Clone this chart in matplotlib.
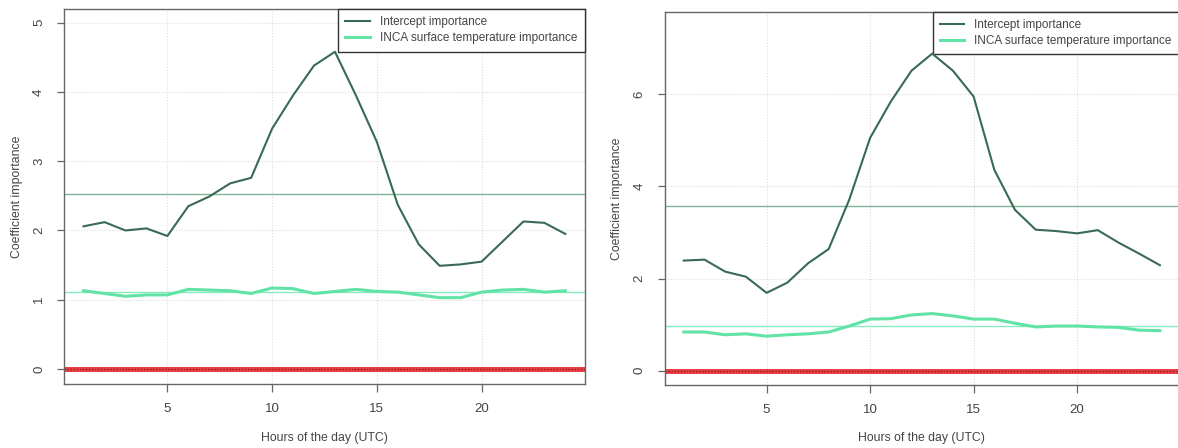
import numpy as np
import matplotlib.pyplot as plt
from matplotlib.ticker import FixedLocator

plt.rcParams['font.family'] = ['Liberation Sans', 'DejaVu Sans']

# hours of the day (UTC)
hours = list(range(1, 25))

# left panel: coefficient importance per hour
intercept_a = [2.06, 2.12, 2.00, 2.03, 1.92, 2.35, 2.49, 2.68, 2.76, 3.47, 3.95, 4.38,
               4.58, 3.95, 3.28, 2.37, 1.80, 1.49, 1.51, 1.55, 1.84, 2.13, 2.11, 1.95]
inca_a = [1.13, 1.09, 1.05, 1.07, 1.07, 1.15, 1.14, 1.13, 1.09, 1.17, 1.16, 1.09,
          1.12, 1.15, 1.12, 1.11, 1.07, 1.03, 1.03, 1.11, 1.14, 1.15, 1.11, 1.13]

# right panel
intercept_b = [2.39, 2.41, 2.15, 2.04, 1.69, 1.91, 2.33, 2.64, 3.72, 5.05, 5.84, 6.51,
               6.88, 6.51, 5.95, 4.36, 3.49, 3.06, 3.03, 2.98, 3.05, 2.78, 2.54, 2.29]
inca_b = [0.84, 0.84, 0.78, 0.80, 0.75, 0.78, 0.80, 0.84, 0.97, 1.12, 1.13, 1.21,
          1.24, 1.19, 1.12, 1.12, 1.03, 0.95, 0.97, 0.97, 0.95, 0.94, 0.88, 0.87]

x_ticks = [5, 10, 15, 20]
labels = ['Intercept importance', 'INCA surface temperature importance']

dark = '#396A54'
light = '#62E3A6'
dark_mean = '#80B39A'
light_mean = '#86EBC0'
text_col = '#444444'
frame_col = '#666666'

fig = plt.figure(figsize=(11.78, 4.48), dpi=100)
ax1 = fig.add_axes([0.0546, 0.1429, 0.4417, 0.8364])
ax2 = fig.add_axes([0.5643, 0.1406, 0.4365, 0.8333])


def draw_panel(ax, intercept, inca, ylim, y_ticks):
    ax.set_xlim(0.08, 24.92)
    ax.set_ylim(*ylim)
    ax.xaxis.set_major_locator(FixedLocator(x_ticks))
    ax.yaxis.set_major_locator(FixedLocator(y_ticks))

    # dotted light grid at the ticks
    for t in x_ticks:
        ax.axvline(t, color='#DDDDDD', lw=0.8, ls=(0, (1, 1.5)), zorder=0)
    for t in y_ticks:
        ax.axhline(t, color='#DDDDDD', lw=0.8, ls=(0, (1, 1.5)), zorder=0)

    # zero reference line
    ax.axhline(0, color='#EA3F44', lw=3.6, zorder=2)
    ax.axhline(0, color='#8E1E22', lw=1.0, ls=(0, (1, 1.2)), zorder=2.1)

    # daily means
    ax.axhline(np.mean(intercept), color=dark_mean, lw=1.0, zorder=1)
    ax.axhline(np.mean(inca), color=light_mean, lw=1.0, zorder=1)

    ax.plot(hours, intercept, color=dark, lw=1.5, label=labels[0], zorder=3)
    ax.plot(hours, inca, color=light, lw=2.2, label=labels[1], zorder=3)

    for s in ax.spines.values():
        s.set_color(frame_col)
        s.set_linewidth(1.0)
    ax.tick_params(axis='both', colors=frame_col, labelcolor=text_col,
                   length=5.4, width=0.9, labelsize=9.5)
    ax.tick_params(axis='x', pad=8)
    ax.tick_params(axis='y', pad=8.5)
    for lab in ax.get_yticklabels():
        lab.set_rotation(90)
        lab.set_va('center')

    ax.set_xlabel('Hours of the day (UTC)', fontsize=8.8, color=text_col, va='center')
    ax.set_ylabel('Coefficient importance', fontsize=8.8, color=text_col, va='center')

    leg = ax.legend(loc='upper right', borderaxespad=0, fancybox=False,
                    framealpha=1, edgecolor='#333333', fontsize=8.5,
                    handlelength=2.1, handletextpad=0.85, borderpad=0.6,
                    labelspacing=0.35)
    leg.get_frame().set_linewidth(1.0)
    for t in leg.get_texts():
        t.set_color(text_col)
    leg.set_zorder(2.5)


draw_panel(ax1, intercept_a, inca_a, (-0.216, 5.193), [0, 1, 2, 3, 4, 5])
draw_panel(ax2, intercept_b, inca_b, (-0.31, 7.79), [0, 2, 4, 6])

ax1.xaxis.set_label_coords(0.5, -0.145)
ax1.yaxis.set_label_coords(-0.091, 0.5)
ax2.xaxis.set_label_coords(0.5, -0.142)
ax2.yaxis.set_label_coords(-0.093, 0.5)

fig.savefig('out.png', dpi=100)
